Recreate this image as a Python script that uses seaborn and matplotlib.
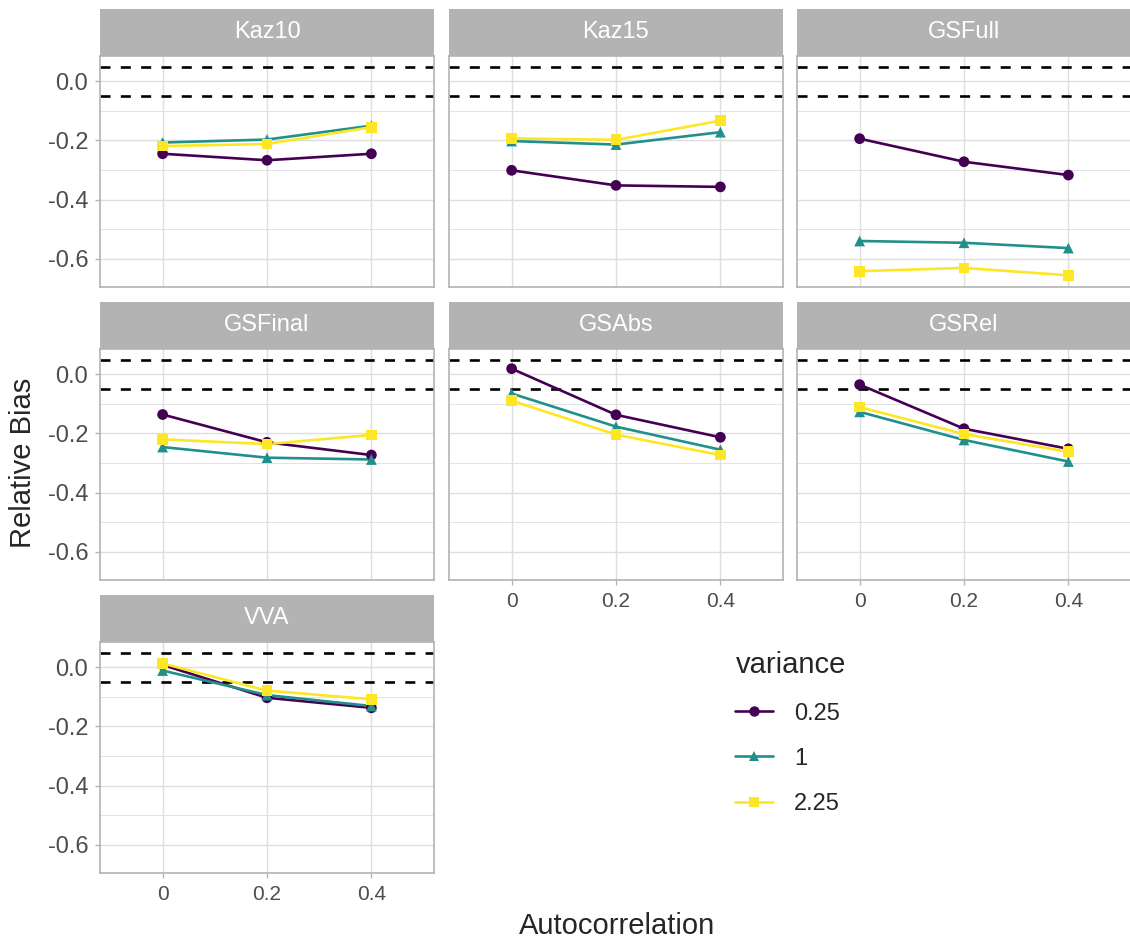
import numpy as np
import pandas as pd
import matplotlib
matplotlib.use("Agg")
import matplotlib.pyplot as plt
import seaborn as sns
from matplotlib.lines import Line2D

# ---------------- data ----------------
methods = ["Kaz10", "Kaz15", "GSFull", "GSFinal", "GSAbs", "GSRel", "VVA"]
autocorr = [0.0, 0.2, 0.4]
autocorr_labels = ["0", "0.2", "0.4"]
variances = ["0.25", "1", "2.25"]

kaz10_v025 = [-0.245, -0.267, -0.245]
kaz10_v1 = [-0.207, -0.197, -0.150]
kaz10_v225 = [-0.219, -0.212, -0.155]

kaz15_v025 = [-0.301, -0.352, -0.357]
kaz15_v1 = [-0.202, -0.214, -0.172]
kaz15_v225 = [-0.193, -0.198, -0.133]

gsfull_v025 = [-0.194, -0.272, -0.317]
gsfull_v1 = [-0.540, -0.546, -0.564]
gsfull_v225 = [-0.642, -0.631, -0.656]

gsfinal_v025 = [-0.136, -0.230, -0.273]
gsfinal_v1 = [-0.246, -0.282, -0.288]
gsfinal_v225 = [-0.220, -0.236, -0.205]

gsabs_v025 = [0.019, -0.137, -0.213]
gsabs_v1 = [-0.065, -0.177, -0.255]
gsabs_v225 = [-0.089, -0.204, -0.273]

gsrel_v025 = [-0.035, -0.184, -0.252]
gsrel_v1 = [-0.127, -0.222, -0.295]
gsrel_v225 = [-0.111, -0.202, -0.262]

vva_v025 = [0.008, -0.103, -0.137]
vva_v1 = [-0.011, -0.094, -0.131]
vva_v225 = [0.013, -0.079, -0.108]

bounds = [-0.05, 0.05]
y_ticks = [-0.6, -0.4, -0.2, 0.0]
y_tick_labels = ["-0.6", "-0.4", "-0.2", "0.0"]
y_minor = [-0.5, -0.3, -0.1]

series = {
    "Kaz10": [kaz10_v025, kaz10_v1, kaz10_v225],
    "Kaz15": [kaz15_v025, kaz15_v1, kaz15_v225],
    "GSFull": [gsfull_v025, gsfull_v1, gsfull_v225],
    "GSFinal": [gsfinal_v025, gsfinal_v1, gsfinal_v225],
    "GSAbs": [gsabs_v025, gsabs_v1, gsabs_v225],
    "GSRel": [gsrel_v025, gsrel_v1, gsrel_v225],
    "VVA": [vva_v025, vva_v1, vva_v225],
}

rows = []
for m in methods:
    for v, vals in zip(variances, series[m]):
        for a, b in zip(autocorr, vals):
            rows.append({"method": m, "autocorr": a, "variance": v, "bias": b})
df = pd.DataFrame(rows)

# ---------------- style ----------------
sns.set_style("white")
plt.rcParams["font.family"] = ["Liberation Sans", "DejaVu Sans"]

palette = dict(zip(variances, ["#440154", "#21908C", "#FDE725"]))
marker_map = dict(zip(variances, ["o", "^", "s"]))
grey70 = "#B3B3B3"
grey87 = "#DEDEDE"
grey30 = "#4D4D4D"

W, H = 1130, 941
fig = plt.figure(figsize=(W / 100, H / 100), dpi=100)

col_left = [100, 449, 797]
panel_w = 334
strip_top = [9, 302, 595]
strip_h = 47
panel_h = 231

for i, m in enumerate(methods):
    r, c = divmod(i, 3)
    x0 = col_left[c]
    st = strip_top[r]
    pt = st + strip_h
    # strip
    sax = fig.add_axes([x0 / W, 1 - pt / H, panel_w / W, strip_h / H])
    sax.set_facecolor(grey70)
    sax.set_xticks([]); sax.set_yticks([])
    for sp in sax.spines.values():
        sp.set_visible(False)
    sax.text(0.5, 0.5, m, color="white", fontsize=17, ha="center", va="center",
             transform=sax.transAxes)

    ax = fig.add_axes([x0 / W, 1 - (pt + panel_h) / H, panel_w / W, panel_h / H])
    sub = df[df["method"] == m]

    ax.set_xlim(-0.12, 0.52)
    ax.set_ylim(-0.6955, 0.0855)
    ax.set_yticks(y_ticks)
    ax.set_yticks(y_minor, minor=True)
    ax.set_xticks(autocorr)
    ax.grid(which="major", color=grey87, lw=1.0, zorder=0)
    ax.grid(which="minor", axis="y", color=grey87, lw=0.6, zorder=0)
    ax.set_axisbelow(True)
    for sp in ax.spines.values():
        sp.set_color(grey70)
        sp.set_linewidth(1.2)

    for b in bounds:
        ax.axhline(b, color="black", lw=1.9, dashes=(3.8, 3.9), zorder=1)

    sns.lineplot(data=sub, x="autocorr", y="bias", hue="variance",
                 hue_order=variances, palette=palette, ax=ax, legend=False,
                 lw=1.9, zorder=3)
    sns.scatterplot(data=sub, x="autocorr", y="bias", hue="variance",
                    style="variance", hue_order=variances, style_order=variances,
                    markers=marker_map, palette=palette, ax=ax, legend=False,
                    s=60, linewidth=0, zorder=4)
    ax.set_xlabel(""); ax.set_ylabel("")

    bottom_of_col = (i + 3 >= len(methods))
    if bottom_of_col:
        ax.set_xticklabels(autocorr_labels)
        ax.tick_params(axis="x", which="major", bottom=True, length=3.5, width=1,
                       color=grey70, labelsize=15, labelcolor=grey30, pad=5)
    else:
        ax.tick_params(axis="x", bottom=False, labelbottom=False)
    if c == 0:
        ax.set_yticklabels(y_tick_labels)
        ax.tick_params(axis="y", which="major", left=True, length=3.5, width=1,
                       color=grey70, labelsize=17, labelcolor=grey30, pad=5)
        ax.tick_params(axis="y", which="minor", left=False)
    else:
        ax.tick_params(axis="y", which="both", left=False, labelleft=False)

fig.text(23 / W, 1 - 463 / H, "Relative Bias", rotation=90, fontsize=21,
         ha="center", va="center")
fig.text(617 / W, 1 - 926 / H, "Autocorrelation", fontsize=21,
         ha="center", va="center")

handles = [Line2D([0], [0], color=palette[v], marker=marker_map[v], lw=1.9,
                  markersize=7.5, markeredgewidth=0) for v in variances]
leg = fig.legend(handles, variances, title="variance", loc="upper left",
                 bbox_to_anchor=(726 / W, 1 - 642 / H), frameon=False,
                 fontsize=17, title_fontsize=21, handlelength=1.57,
                 handletextpad=0.9, labelspacing=0.98, borderaxespad=0)
leg._legend_box.align = "left"

fig.savefig("out.png", dpi=100)
